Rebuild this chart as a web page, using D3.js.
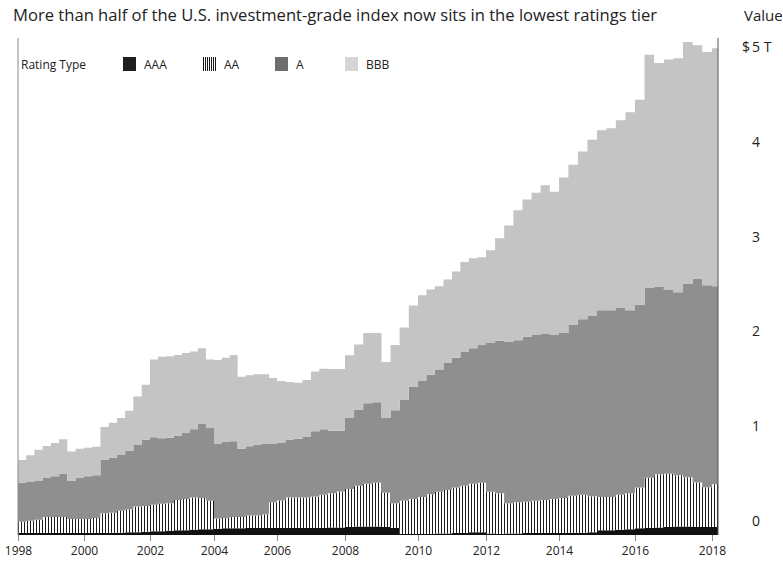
<!DOCTYPE html>
<html>
<head>
<meta charset="utf-8">
<script src="https://cdn.jsdelivr.net/npm/d3@7"></script>
<style>
  body { margin: 0; background: #fff; }
  svg text { font-family: "Open Sans", "Noto Sans", sans-serif; fill: #222; }
</style>
</head>
<body>
<div id="chart"></div>
<script>
// values in $ trillions, quarterly from Jan 1998, last point Mar 2018
const seriesKeys = ["AAA", "AA", "A", "BBB"];

const aaa = [0.02,0.02,0.02,0.02,0.02,0.02,0.02,0.02,0.02,0.02,0.02,0.025,0.025,0.03,0.03,0.035,
  0.04,0.04,0.045,0.05,0.05,0.055,0.06,0.06,
  0.065,0.07,0.07,0.07,0.075,0.075,0.075,0.075,
  0.075,0.075,0.075,0.075,0.075,0.075,0.08,0.08,
  0.085,0.09,0.09,0.09,0.085,0.075,0.01,0.01,
  0.01,0.01,0.015,0.015,0.02,0.02,0.03,0.03,
  0.015,0.01,0.015,0.015,0.02,0.02,0.02,0.02,
  0.02,0.025,0.025,0.03,0.05,0.05,0.055,0.06,
  0.07,0.075,0.08,0.085,0.09,0.09,0.085,0.085,
  0.085,0.085];

const aa = [0.12,0.13,0.14,0.17,0.17,0.17,0.15,0.15,0.15,0.16,0.21,0.21,0.23,0.24,0.27,0.27,
  0.28,0.29,0.29,0.32,0.33,0.34,0.33,0.30,
  0.11,0.11,0.12,0.12,0.13,0.13,0.14,0.27,
  0.29,0.32,0.32,0.32,0.33,0.35,0.36,0.38,
  0.40,0.43,0.45,0.46,0.36,0.26,0.35,0.37,
  0.39,0.42,0.44,0.46,0.48,0.50,0.51,0.52,
  0.44,0.43,0.32,0.33,0.33,0.34,0.35,0.36,
  0.37,0.39,0.40,0.38,0.35,0.35,0.37,0.38,
  0.43,0.53,0.56,0.56,0.54,0.52,0.47,0.42,
  0.45,0.44];

const a = [0.41,0.41,0.41,0.41,0.43,0.46,0.40,0.43,0.45,0.45,0.56,0.58,0.59,0.62,0.65,0.70,
  0.71,0.69,0.69,0.68,0.70,0.72,0.78,0.77,
  0.79,0.80,0.80,0.72,0.73,0.75,0.75,0.62,
  0.61,0.61,0.62,0.64,0.69,0.69,0.66,0.64,
  0.75,0.80,0.85,0.85,0.79,0.98,1.07,1.18,
  1.23,1.26,1.29,1.34,1.37,1.41,1.43,1.46,
  1.57,1.61,1.70,1.71,1.74,1.75,1.75,1.73,
  1.74,1.80,1.85,1.90,1.97,1.97,1.97,1.93,
  1.93,2.00,1.98,1.94,1.93,2.04,2.15,2.13,
  2.09,2.08];

const bbb = [0.24,0.28,0.33,0.34,0.35,0.36,0.31,0.31,0.30,0.30,0.35,0.37,0.39,0.42,0.51,0.58,
  0.82,0.86,0.86,0.85,0.84,0.82,0.80,0.72,
  0.88,0.89,0.91,0.76,0.75,0.74,0.73,0.69,
  0.65,0.61,0.59,0.60,0.63,0.64,0.65,0.65,
  0.66,0.69,0.74,0.73,0.59,0.69,0.76,0.86,
  0.90,0.90,0.88,0.88,0.91,0.95,0.95,0.92,
  0.98,1.08,1.23,1.37,1.45,1.50,1.57,1.51,
  1.64,1.69,1.77,1.86,1.90,1.92,1.98,2.09,
  2.16,2.46,2.36,2.43,2.47,2.55,2.46,2.46,
  2.51,2.54];

const tickYears = [1998, 2000, 2002, 2004, 2006, 2008, 2010, 2012, 2014, 2016, 2018];
const valueTicks = [0, 1, 2, 3, 4, 5];

const dates = d3.timeMonth.every(3).range(new Date(1998, 0, 1), new Date(2018, 1, 1));
dates.push(new Date(2018, 2, 1));

const table = dates.map((d, i) => ({date: d, AAA: aaa[i], AA: aa[i], A: a[i], BBB: bbb[i]}));

const width = 783, height = 563;
const svg = d3.select("#chart").append("svg")
  .attr("width", width)
  .attr("height", height);

// stripes for AA
const defs = svg.append("defs");
defs.append("pattern")
  .attr("id", "stripes")
  .attr("patternUnits", "userSpaceOnUse")
  .attr("width", 3).attr("height", 10)
  .call(p => {
    p.append("rect").attr("width", 3).attr("height", 10).attr("fill", "#fff");
    p.append("rect").attr("width", 1).attr("height", 10).attr("fill", "#1a1a1a");
  });
defs.append("pattern")
  .attr("id", "stripesLegend")
  .attr("patternUnits", "userSpaceOnUse")
  .attr("width", 2).attr("height", 10)
  .call(p => {
    p.append("rect").attr("width", 2).attr("height", 10).attr("fill", "#fff");
    p.append("rect").attr("width", 1).attr("height", 10).attr("fill", "#1a1a1a");
  });

// x scale is piecewise: the source plots points by index, so years aren't evenly spaced
const x = d3.scaleTime()
  .domain(tickYears.map(y => new Date(y, 0, 1)).concat([new Date(2018, 2, 1)]))
  .range([18, 84, 150, 214, 277, 345, 418, 486, 559, 635, 712, 718]);

const y = d3.scaleLinear()
  .domain([0, 5])
  .range([535, 61]);

const fills = {AAA: "#111", AA: "url(#stripes)", A: "#8f8f8f", BBB: "#c4c4c4"};

const stacked = d3.stack().keys(seriesKeys)(table);

const area = d3.area()
  .curve(d3.curveStepAfter)
  .x(d => x(d.data.date))
  .y0(d => y(d[0]))
  .y1(d => y(d[1]));

svg.append("g")
  .selectAll("path")
  .data(stacked)
  .join("path")
    .attr("d", area)
    .attr("fill", d => fills[d.key]);

// x axis
const xAxis = svg.append("g")
  .attr("transform", "translate(0," + 535 + ")")
  .call(d3.axisBottom(x)
    .tickValues(tickYears.map(y => new Date(y, 0, 1)))
    .tickFormat(d3.timeFormat("%Y"))
    .tickSize(6)
    .tickPadding(5));
xAxis.select(".domain").remove();
xAxis.selectAll("line").attr("stroke", "#888");
xAxis.selectAll("text").style("font-size", "12px").attr("fill", "#222");

// side lines
svg.append("line")
  .attr("x1", 18).attr("x2", 18)
  .attr("y1", 38).attr("y2", 535)
  .attr("stroke", "#8a8a8a");
svg.append("line")
  .attr("x1", 718).attr("x2", 718)
  .attr("y1", 38).attr("y2", 535)
  .attr("stroke", "#555");

// y labels on the right, no tick marks
svg.append("g")
  .selectAll("text")
  .data(valueTicks)
  .join("text")
    .attr("x", 752)
    .attr("y", d => y(d) - 9)
    .style("font-size", "14px")
    .text(d => d === 5 ? "5 T" : d);
svg.append("text")
  .attr("x", 750)
  .attr("y", y(5) - 9)
  .attr("text-anchor", "end")
  .style("font-size", "14px")
  .text("$");

svg.append("text")
  .attr("x", 744)
  .attr("y", 21)
  .style("font-size", "15px")
  .text("Value");

// title
svg.append("text")
  .attr("x", 13)
  .attr("y", 21)
  .style("font-size", "16.6px")
  .attr("fill", "#333")
  .text("More than half of the U.S. investment-grade index now sits in the lowest ratings tier");

// legend
const legend = svg.append("g");
legend.append("text")
  .attr("x", 21).attr("y", 69)
  .style("font-size", "12px")
  .text("Rating Type");
const legendItems = [
  {key: "AAA", x: 123, fill: "#1e1e1e"},
  {key: "AA", x: 203, fill: "url(#stripesLegend)"},
  {key: "A", x: 275, fill: "#6e6e6e"},
  {key: "BBB", x: 345, fill: "#d6d6d6"}
];
const li = legend.selectAll("g.item")
  .data(legendItems)
  .join("g")
    .attr("class", "item")
    .attr("transform", d => "translate(" + d.x + ",57)");
li.append("rect")
  .attr("width", 13).attr("height", 14)
  .attr("fill", d => d.fill);
li.append("text")
  .attr("x", 21).attr("y", 12)
  .style("font-size", "12px")
  .text(d => d.key);
</script>
</body>
</html>
